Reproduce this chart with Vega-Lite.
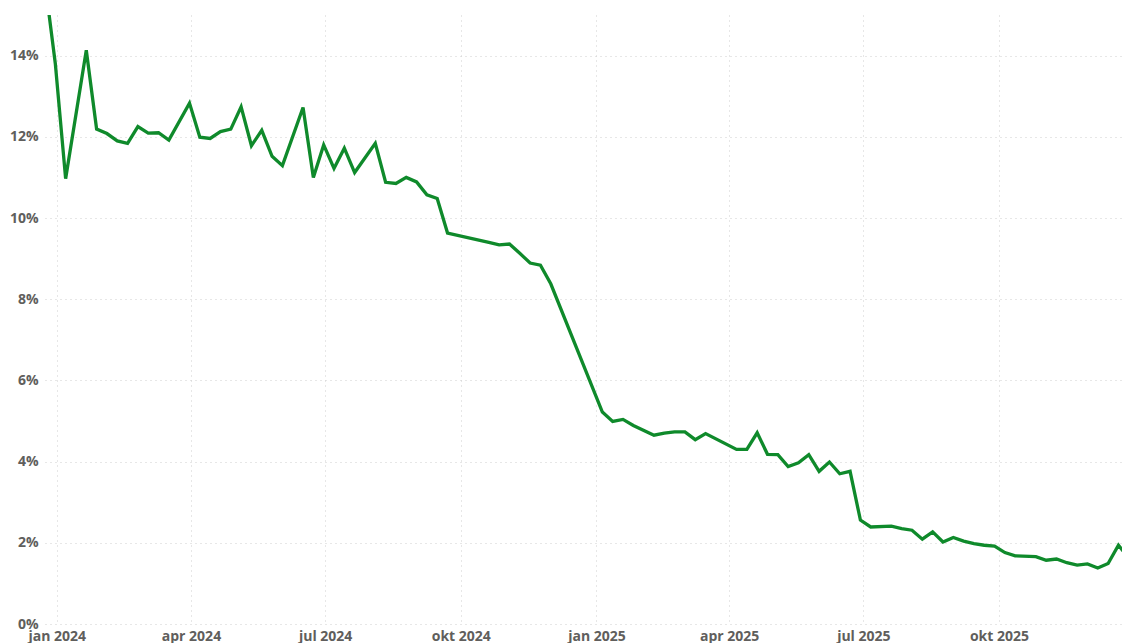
{
  "$schema": "https://vega.github.io/schema/vega-lite/v6.json",
  "autosize": {"type": "none"},
  "width": 1077,
  "height": 609,
  "padding": {"left": 45, "top": 15, "right": 0, "bottom": 19},
  "background": "white",
  "config": {
    "view": {"stroke": null},
    "font": "Open Sans"
  },
  "data": {
    "values": [
      {"date": "2023-12-24", "v": 15.8},
      {"date": "2023-12-31", "v": 13.8},
      {"date": "2024-01-07", "v": 10.97},
      {"date": "2024-01-21", "v": 14.13},
      {"date": "2024-01-28", "v": 12.19},
      {"date": "2024-02-04", "v": 12.08},
      {"date": "2024-02-11", "v": 11.9},
      {"date": "2024-02-18", "v": 11.84},
      {"date": "2024-02-25", "v": 12.25},
      {"date": "2024-03-03", "v": 12.09},
      {"date": "2024-03-10", "v": 12.1},
      {"date": "2024-03-17", "v": 11.92},
      {"date": "2024-03-31", "v": 12.83},
      {"date": "2024-04-07", "v": 11.99},
      {"date": "2024-04-14", "v": 11.96},
      {"date": "2024-04-21", "v": 12.13},
      {"date": "2024-04-28", "v": 12.19},
      {"date": "2024-05-05", "v": 12.74},
      {"date": "2024-05-12", "v": 11.78},
      {"date": "2024-05-19", "v": 12.16},
      {"date": "2024-05-26", "v": 11.52},
      {"date": "2024-06-02", "v": 11.29},
      {"date": "2024-06-16", "v": 12.72},
      {"date": "2024-06-23", "v": 11.0},
      {"date": "2024-06-30", "v": 11.8},
      {"date": "2024-07-07", "v": 11.22},
      {"date": "2024-07-14", "v": 11.72},
      {"date": "2024-07-21", "v": 11.12},
      {"date": "2024-08-04", "v": 11.84},
      {"date": "2024-08-11", "v": 10.88},
      {"date": "2024-08-18", "v": 10.85},
      {"date": "2024-08-25", "v": 11.0},
      {"date": "2024-09-01", "v": 10.89},
      {"date": "2024-09-08", "v": 10.57},
      {"date": "2024-09-15", "v": 10.48},
      {"date": "2024-09-22", "v": 9.63},
      {"date": "2024-10-20", "v": 9.4},
      {"date": "2024-10-27", "v": 9.34},
      {"date": "2024-11-03", "v": 9.36},
      {"date": "2024-11-10", "v": 9.13},
      {"date": "2024-11-17", "v": 8.89},
      {"date": "2024-11-24", "v": 8.84},
      {"date": "2024-12-01", "v": 8.38},
      {"date": "2025-01-05", "v": 5.22},
      {"date": "2025-01-12", "v": 4.99},
      {"date": "2025-01-19", "v": 5.04},
      {"date": "2025-01-26", "v": 4.89},
      {"date": "2025-02-09", "v": 4.65},
      {"date": "2025-02-16", "v": 4.7},
      {"date": "2025-02-23", "v": 4.73},
      {"date": "2025-03-02", "v": 4.73},
      {"date": "2025-03-09", "v": 4.54},
      {"date": "2025-03-16", "v": 4.69},
      {"date": "2025-04-06", "v": 4.3},
      {"date": "2025-04-13", "v": 4.3},
      {"date": "2025-04-20", "v": 4.71},
      {"date": "2025-04-27", "v": 4.18},
      {"date": "2025-05-04", "v": 4.17},
      {"date": "2025-05-11", "v": 3.88},
      {"date": "2025-05-18", "v": 3.97},
      {"date": "2025-05-25", "v": 4.17},
      {"date": "2025-06-01", "v": 3.76},
      {"date": "2025-06-08", "v": 3.99},
      {"date": "2025-06-15", "v": 3.7},
      {"date": "2025-06-22", "v": 3.76},
      {"date": "2025-06-29", "v": 2.56},
      {"date": "2025-07-06", "v": 2.39},
      {"date": "2025-07-20", "v": 2.41},
      {"date": "2025-07-27", "v": 2.35},
      {"date": "2025-08-03", "v": 2.31},
      {"date": "2025-08-10", "v": 2.09},
      {"date": "2025-08-17", "v": 2.27},
      {"date": "2025-08-24", "v": 2.02},
      {"date": "2025-08-31", "v": 2.13},
      {"date": "2025-09-07", "v": 2.04},
      {"date": "2025-09-14", "v": 1.98},
      {"date": "2025-09-21", "v": 1.94},
      {"date": "2025-09-28", "v": 1.92},
      {"date": "2025-10-05", "v": 1.76},
      {"date": "2025-10-12", "v": 1.68},
      {"date": "2025-10-26", "v": 1.66},
      {"date": "2025-11-02", "v": 1.57},
      {"date": "2025-11-09", "v": 1.6},
      {"date": "2025-11-16", "v": 1.51},
      {"date": "2025-11-23", "v": 1.45},
      {"date": "2025-11-30", "v": 1.48},
      {"date": "2025-12-07", "v": 1.38},
      {"date": "2025-12-14", "v": 1.49},
      {"date": "2025-12-21", "v": 1.94},
      {"date": "2025-12-28", "v": 1.62}
    ]
  },
  "mark": {"type": "line", "color": "#0F8A2B", "strokeWidth": 3.3, "clip": true, "strokeJoin": "miter"},
  "encoding": {
    "x": {
      "field": "date",
      "type": "temporal",
      "scale": {
        "domain": [
          {"year": 2023, "month": 12, "date": 24},
          {"year": 2025, "month": 12, "date": 23, "hours": 10}
        ],
        "nice": false
      },
      "axis": {
        "title": null,
        "tickCount": {"interval": "month", "step": 3},
        "labelExpr": "['jan','feb','mrt','apr','mei','jun','jul','aug','sep','okt','nov','dec'][month(datum.value)] + ' ' + year(datum.value)",
        "labelFont": "Open Sans",
        "labelFontWeight": "bold",
        "labelFontSize": 14,
        "labelColor": "#605E5C",
        "labelPadding": 5,
        "labelFlush": false,
        "labelOverlap": false,
        "ticks": false,
        "domain": false,
        "grid": true,
        "gridColor": "#CFCFCF",
        "gridDash": [1, 4],
        "gridWidth": 1
      }
    },
    "y": {
      "field": "v",
      "type": "quantitative",
      "scale": {"domain": [0, 15], "nice": false, "zero": true},
      "axis": {
        "title": null,
        "values": [0, 2, 4, 6, 8, 10, 12, 14],
        "labelExpr": "datum.value + '%'",
        "labelFont": "Open Sans",
        "labelFontWeight": "bold",
        "labelFontSize": 14,
        "labelColor": "#605E5C",
        "labelPadding": 7,
        "ticks": false,
        "domain": false,
        "grid": true,
        "gridColor": "#CFCFCF",
        "gridDash": [1, 4],
        "gridWidth": 1
      }
    }
  }
}
